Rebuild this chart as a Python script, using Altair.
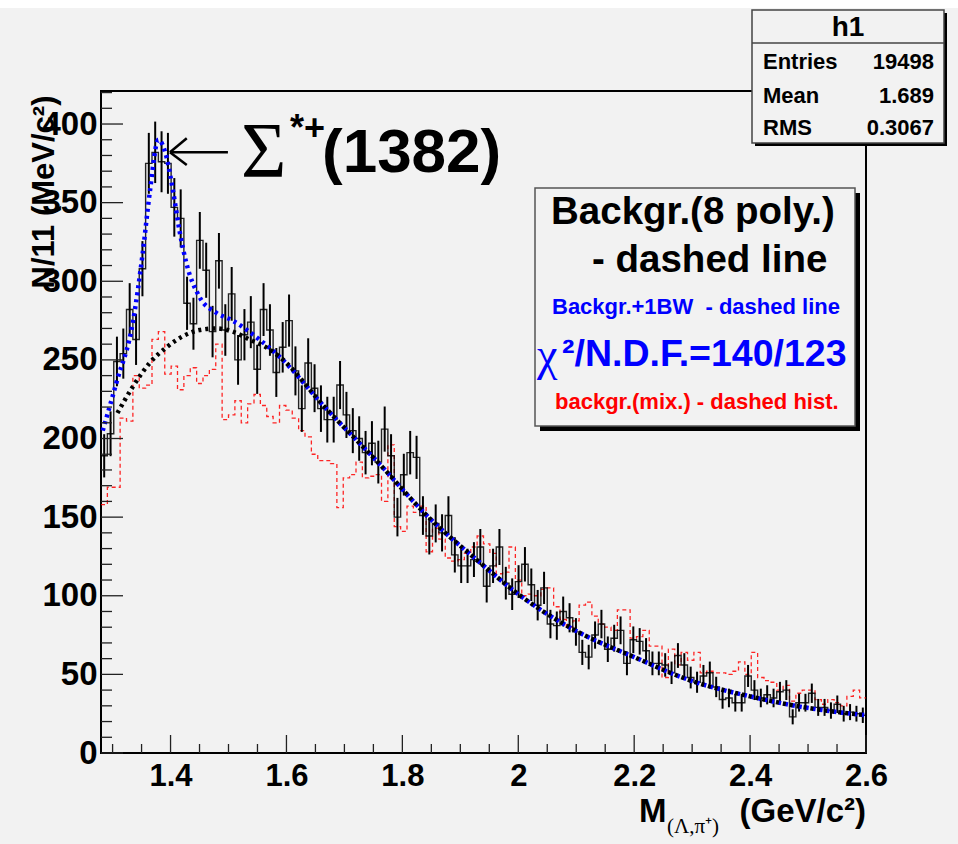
import altair as alt
import pandas as pd

# ---------------- data ----------------
X_MIN, X_MAX = 1.28, 2.6
BIN_W = 0.011
Y_MAX = 421

# black histogram (N per 11 MeV bin), 120 bins starting at 1.28
counts = [
    189, 203, 249, 254, 282, 263, 308, 375, 382, 376, 375, 347, 340, 286, 273, 326, 307, 268, 313, 269, 292, 250, 266, 274,
    244, 282, 269, 242, 258, 275, 243, 219, 248, 232, 219, 212, 212, 234, 215, 205, 200, 191, 197, 185, 206, 189, 150, 177, 191,
    188, 151, 138, 146, 140, 151, 126, 119, 119, 123, 131, 106, 119, 131, 108, 101, 109, 120, 107, 94, 105, 82, 81, 90, 86,
    77, 64, 61, 75, 82, 66, 73, 78, 57, 72, 71, 65, 57, 57, 56, 51, 62, 56, 48, 45, 49, 51,
    42, 34, 35, 32, 32, 49, 40, 35, 37, 35, 39, 40, 23, 32, 32, 38, 29, 29, 27, 31, 25, 26, 25, 24,
]

# red dashed histogram: background from mixed events
mix_counts = [
    158, 169, 169, 213, 211, 240, 232, 234, 263, 268, 241, 246, 231, 240, 245, 235, 240, 244, 260, 212, 215, 224, 210, 222,
    228, 221, 214, 210, 221, 218, 213, 205, 201, 190, 186, 186, 184, 156, 175, 177, 185, 175, 176, 177, 160, 196, 144, 141,
    157, 153, 157, 128, 143, 136, 124, 122, 123, 127, 131, 138, 133, 127, 114, 115, 131, 110, 100, 101, 100, 104, 105, 93,
    85, 80, 84, 94, 96, 87, 82, 80, 78, 91, 91, 73, 74, 78, 68, 68, 48, 66, 56, 64, 59, 64, 51, 52, 51,
    51, 50, 52, 58, 50, 64, 48, 46, 45, 40, 43, 33, 38, 40, 40, 34, 31, 34, 32, 30, 36, 40, 35,
]

# blue dashed: background + 1 Breit-Wigner
fit_x = [1.283, 1.307, 1.335, 1.352, 1.364, 1.379, 1.393, 1.404, 1.416, 1.427, 1.45, 1.479, 1.507, 1.553,
         1.588, 1.666, 1.76, 1.845, 1.931, 2.0, 2.098, 2.2, 2.298, 2.4, 2.494, 2.6]
fit_y = [205, 236, 274, 318, 356, 390, 379, 358, 331, 312, 290, 280, 275, 263,
         252, 220, 184, 150, 122, 101, 78, 61, 46, 36, 29, 24]

# black dashed: background (8th-order polynomial)
bkg_x = [1.305, 1.335, 1.364, 1.393, 1.421, 1.45, 1.479, 1.507, 1.536, 1.565,
         1.588, 1.666, 1.76, 1.845, 1.931, 2.0, 2.098, 2.2, 2.298, 2.4, 2.494, 2.6]
bkg_y = [214, 233, 248, 258, 265, 269, 270, 268, 263, 258,
         252, 220, 184, 150, 122, 101, 78, 61, 46, 36, 29, 24]

x_major = [1.4, 1.6, 1.8, 2.0, 2.2, 2.4, 2.6]
x_minor = [1.30, 1.35, 1.45, 1.50, 1.55, 1.65, 1.70, 1.75, 1.85, 1.90, 1.95,
           2.05, 2.10, 2.15, 2.25, 2.30, 2.35, 2.45, 2.50, 2.55]
y_major = [0, 50, 100, 150, 200, 250, 300, 350, 400]
y_minor = [10, 20, 30, 40, 60, 70, 80, 90, 110, 120, 130, 140, 160, 170, 180, 190,
           210, 220, 230, 240, 260, 270, 280, 290, 310, 320, 330, 340, 360, 370, 380, 390, 410, 420]

stats_labels = ["Entries", "Mean", "RMS"]
stats_values = ["19498", "1.689", "0.3067"]

# ---------------- layout ----------------
W, H = 765, 662
L, T = 101, 91
BG = "#f2f2f2"

xs = alt.Scale(domain=[X_MIN, X_MAX], nice=False, zero=False)
ys = alt.Scale(domain=[0, Y_MAX], nice=False, zero=True)

n_bins = len(counts)
edges = [X_MIN + BIN_W * i for i in range(n_bins + 1)]
step_df = pd.DataFrame({"x": edges, "n": counts + [counts[-1]], "m": mix_counts + [mix_counts[-1]]})
bins_df = pd.DataFrame({"x": [X_MIN + BIN_W * (i + 0.5) for i in range(n_bins)], "n": counts})
fit_df = pd.DataFrame({"x": fit_x, "y": fit_y})
bkg_df = pd.DataFrame({"x": bkg_x, "y": bkg_y})
one = pd.DataFrame({"k": [0]})

FONT = "Liberation Sans"
SERIF = "Liberation Serif"

x_axis = alt.Axis(values=x_major, format=".1~f", title=None, ticks=False, grid=False, domain=False,
                  labelFontSize=31, labelFont=FONT, labelFontWeight="bold", labelColor="black",
                  labelPadding=8, labelFlush=False, labelOverlap=False)
y_axis = alt.Axis(values=y_major, format="d", title=None, ticks=False, grid=False, domain=False,
                  labelFontSize=33, labelFont=FONT, labelFontWeight="bold", labelColor="black",
                  labelPadding=4, labelFlush=False, labelOverlap=False)


def X(field):
    return alt.X(field, type="quantitative", scale=xs, axis=x_axis)


def Y(field):
    return alt.Y(field, type="quantitative", scale=ys, axis=y_axis)


def txt(text, xa, ya, size, color="black", font=FONT, weight="bold", align="left",
        baseline="alphabetic", angle=0):
    return alt.Chart(one).mark_text(
        text=text, fontSize=size, font=font, fontWeight=weight, color=color,
        align=align, baseline=baseline, angle=angle
    ).encode(x=alt.value(xa - L), y=alt.value(ya - T))


def box(x1, y1, x2, y2, fill, stroke=None, sw=1.0):
    kw = dict(fill=fill)
    if stroke is not None:
        kw.update(stroke=stroke, strokeWidth=sw)
    return alt.Chart(one).mark_rect(**kw).encode(
        x=alt.value(x1 - L), x2=alt.value(x2 - L), y=alt.value(y1 - T), y2=alt.value(y2 - T))


def hline(x1, x2, ya, color="black", sw=1.0):
    return alt.Chart(one).mark_rule(color=color, strokeWidth=sw).encode(
        x=alt.value(x1 - L), x2=alt.value(x2 - L), y=alt.value(ya - T))


layers = []

# red dashed mixed-event histogram
layers.append(
    alt.Chart(step_df).mark_line(interpolate="step-after", color="#ff0000", strokeDash=[4, 3],
                                 strokeWidth=1.3, opacity=0.85)
    .encode(x=X("x"), y=Y("m"))
)
# black data histogram
layers.append(
    alt.Chart(step_df).mark_line(interpolate="step-after", color="black", strokeWidth=1.4, opacity=0.85)
    .encode(x=X("x"), y=Y("n"))
)
# error bars
layers.append(
    alt.Chart(bins_df)
    .transform_calculate(lo="datum.n - sqrt(datum.n)", hi="datum.n + sqrt(datum.n)")
    .mark_rule(color="black", strokeWidth=2)
    .encode(x=X("x"), y=Y("lo"), y2="hi:Q")
)
# fit curves
layers.append(
    alt.Chart(fit_df).mark_line(interpolate="monotone", color="#0000ff", strokeDash=[3, 4],
                                strokeWidth=4.5)
    .encode(x=X("x"), y=Y("y"))
)
layers.append(
    alt.Chart(bkg_df).mark_line(interpolate="monotone", color="black", strokeDash=[3, 4],
                                strokeDashOffset=3, strokeWidth=4.5)
    .encode(x=X("x"), y=Y("y"))
)

# inward ticks
layers.append(alt.Chart(pd.DataFrame({"y": y_major})).mark_rule(color="#222222", strokeWidth=1.3)
              .encode(y=Y("y"), x=alt.value(0), x2=alt.value(22)))
layers.append(alt.Chart(pd.DataFrame({"y": y_minor})).mark_rule(color="#222222", strokeWidth=1.3)
              .encode(y=Y("y"), x=alt.value(0), x2=alt.value(11)))
layers.append(alt.Chart(pd.DataFrame({"x": x_major})).mark_rule(color="#222222", strokeWidth=1.3)
              .encode(x=X("x"), y=alt.value(H), y2=alt.value(H - 18)))
layers.append(alt.Chart(pd.DataFrame({"x": x_minor})).mark_rule(color="#222222", strokeWidth=1.3)
              .encode(x=X("x"), y=alt.value(H), y2=alt.value(H - 9)))

# arrow pointing at the peak
arrow_df = pd.DataFrame({
    "x": [1.399, 1.399, 1.399],
    "x2": [1.499, 1.428, 1.428],
    "y": [382, 382, 382],
    "y2": [382, 391, 374],
})
layers.append(alt.Chart(arrow_df).mark_rule(color="black", strokeWidth=2.5)
              .encode(x=X("x"), x2="x2:Q", y=Y("y"), y2="y2:Q"))

# annotation text
layers.append(txt("Σ", 241, 176, 78, font=SERIF, weight="normal"))
layers.append(txt("*+", 290, 140, 36))
layers.append(txt("(1382)", 322, 172, 62))

# legend box
layers.append(box(540, 193, 860, 431, "black"))
layers.append(box(535, 188, 855, 426, BG, stroke="#555555", sw=1.5))
layers.append(txt("Backgr.(8 poly.)", 551, 212, 38.5, baseline="middle"))
layers.append(txt("- dashed line", 592, 260, 38.5, baseline="middle"))
layers.append(txt("Backgr.+1BW \u00a0- dashed line", 552, 307, 22, color="#0000ff", baseline="middle"))
layers.append(txt("χ", 537, 356, 46, color="#0000ff", font=SERIF, weight="normal", baseline="middle"))
layers.append(txt("²/N.D.F.=140/123", 562, 355, 37.5, color="#0000ff", baseline="middle"))
layers.append(txt("backgr.(mix.) - dashed hist.", 555, 402, 22, color="#ff0000", baseline="middle"))

# stats box
layers.append(box(755, 13, 947, 146, "black"))
layers.append(box(752, 10, 944, 143, BG, stroke="#444444", sw=1.5))
layers.append(hline(752, 944, 43, color="#444444", sw=1.5))
layers.append(txt("h1", 848, 28, 28, align="center", baseline="middle"))
for i, (lab, val) in enumerate(zip(stats_labels, stats_values)):
    yy = [62, 96, 128][i]
    layers.append(txt(lab, 763, yy, 22, baseline="middle"))
    layers.append(txt(val, 934, yy, 22, align="right", baseline="middle"))

# axis titles
layers.append(txt("N/11 (MeV/c²)", 45, 192, 31, align="center", baseline="middle", angle=270))
layers.append(txt("M", 639, 822, 33))
layers.append(txt("(Λ,π⁺)", 667, 833, 21, font=SERIF, weight="normal"))
layers.append(txt("(GeV/c²)", 866, 822, 33, align="right"))

# white strip at the very top of the canvas
layers.append(box(0, 0, 958, 8, "white"))

chart = (
    alt.layer(*layers)
    .properties(width=W, height=H,
                padding={"left": L, "top": T, "right": 958 - L - W, "bottom": 844 - T - H},
                autosize=alt.AutoSizeParams(type="none"))
    .configure(background=BG)
    .configure_view(stroke="black", strokeWidth=2)
)

chart.save("out.html", embed_options={"renderer": "svg", "actions": False})
